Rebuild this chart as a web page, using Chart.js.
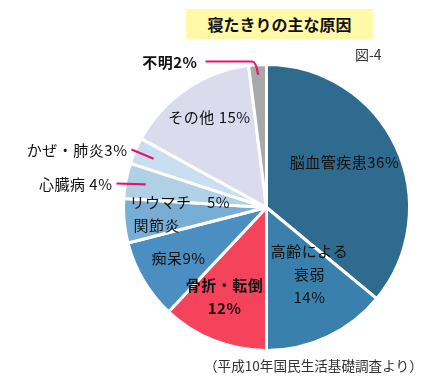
<!DOCTYPE html>
<html><head><meta charset="utf-8">
<script src="https://cdn.jsdelivr.net/npm/chart.js@4/dist/chart.umd.min.js"></script>
<style>
html,body{margin:0;padding:0;background:#fff;}
#wrap{position:relative;width:439px;height:383px;overflow:hidden;font-family:"Noto Sans CJK JP",sans-serif;}
#c{position:absolute;left:0;top:0;}
#title{position:absolute;left:186px;top:9px;width:187px;height:30px;background:#fff9a8;font-weight:bold;font-size:16px;line-height:30px;text-align:center;color:#111;}
#fig{position:absolute;left:355px;top:44px;font-size:14px;line-height:20px;color:#333;}
#note{position:absolute;left:204px;top:355px;font-size:13.6px;color:#333;white-space:nowrap;}
</style></head>
<body><div id="wrap">
<canvas id="c" width="439" height="383"></canvas>
<div id="title">寝たきりの主な原因</div>
<div id="fig">図-4</div>
<div id="note">（平成10年国民生活基礎調査より）</div>
</div>
<script>
const categories = ['脳血管疾患','高齢による衰弱','骨折・転倒','痴呆','リウマチ関節炎','心臓病','かぜ・肺炎','その他','不明'];
const values = [36,14,12,9,5,4,3,15,2];
const colors = ['#2f6b8f','#3a80ad','#f5435c','#4b8ec2','#78aed6','#b0d0e6','#c9def0','#dadcee','#a8a8a8'];

// label layout: text lines and offsets (relative to pie centre) – presentation only
const labelLayout = [
  {lines:[categories[0]+values[0]+'%'], x:78, y:-45, align:'center'},
  {lines:['高齢による','衰弱',values[1]+'%'], x:43, y:67, align:'center'},
  {lines:[categories[2], values[2]+'%'], x:-42, y:89, align:'center', bold:true},
  {lines:[categories[3]+values[3]+'%'], x:-88, y:51, align:'center'},
  {lines:['リウマチ　'+values[4]+'%','関節炎'], x:-137, y:6, align:'left', indent:[0,4]},
  {lines:[categories[5]+' '+values[5]+'%'], x:-154, y:-23, align:'right', leader:0.86},
  {lines:[categories[6]+values[6]+'%'], x:-139, y:-57, align:'right', leader:0.86},
  {lines:[categories[7]+' '+values[7]+'%'], x:-57, y:-90, align:'center'},
  {lines:[categories[8]+values[8]+'%'], x:-69, y:-145, align:'right', leader:0.93, elbow:true, bold:true}
];

const labelPlugin = {
  id:'sliceLabels',
  afterDraw(chart){
    const ctx = chart.ctx;
    const meta = chart.getDatasetMeta(0);
    const a0 = meta.data[0];
    const cx = a0.x, cy = a0.y, R = a0.outerRadius;
    ctx.save();
    ctx.fillStyle = '#111';
    ctx.textBaseline = 'middle';
    labelLayout.forEach((L,i)=>{
      const arc = meta.data[i];
      const mid = (arc.startAngle+arc.endAngle)/2;
      ctx.font = (L.bold?'bold ':'')+'15px "Noto Sans CJK JP", sans-serif';
      ctx.letterSpacing = '0.5px';
      const lh = 23;
      const tx = cx + L.x, ty0 = cy + L.y - (L.lines.length-1)*lh/2;
      ctx.textAlign = L.align;
      L.lines.forEach((s,k)=>{
        ctx.fillText(s, tx + (L.indent?L.indent[k]:0), ty0 + k*lh);
      });
      if (L.leader){
        const px = cx + Math.cos(mid)*R*L.leader, py = cy + Math.sin(mid)*R*L.leader;
        ctx.strokeStyle = '#e8116f';
        ctx.lineWidth = 2.2;
        ctx.beginPath();
        if (L.elbow){
          const sx = tx + 8, sy = ty0 - 1;
          ctx.moveTo(sx, sy);
          ctx.lineTo(px-6, sy);
          ctx.quadraticCurveTo(px-2, sy, px, py);
        } else {
          ctx.moveTo(tx + 4, ty0 - 1);
          ctx.lineTo(px, py);
        }
        ctx.stroke();
      }
    });
    ctx.restore();
  }
};

new Chart(document.getElementById('c'), {
  type:'pie',
  data:{labels:categories, datasets:[{data:values, backgroundColor:colors, borderColor:'#ffffff', borderWidth:3}]},
  options:{
    responsive:false, animation:false,
    layout:{padding:{left:122, right:28, top:63, bottom:31}},
    plugins:{legend:{display:false}, title:{display:false}, tooltip:{enabled:false}}
  },
  plugins:[labelPlugin]
});
</script>
</body></html>
